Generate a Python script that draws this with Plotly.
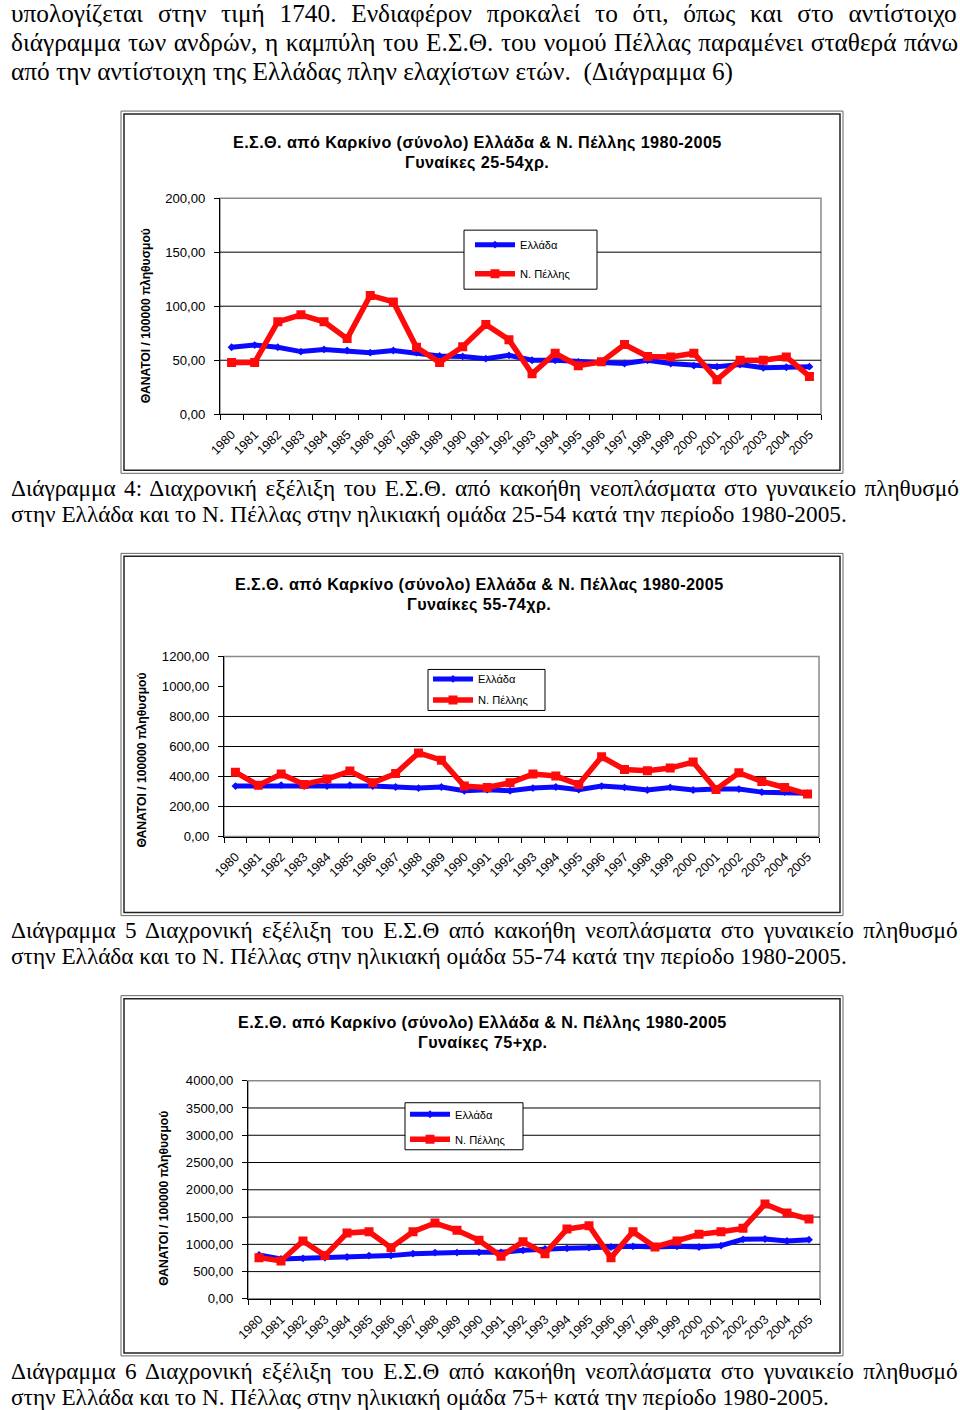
import plotly.graph_objects as go

YEARS = [str(y) for y in range(1980, 2006)]

# Chart 1: women 25-54
GR_25_54 = [62, 64, 62, 58, 60, 59, 57, 59, 57, 54, 53.5, 51.5, 54.5, 50, 50, 48.5, 48, 47, 50, 47, 45, 44, 46, 43, 43.5, 44]
PE_25_54 = [48, 48, 85.5, 92, 85.5, 70, 110, 104, 62, 48, 62.5, 83, 69, 37.5, 56.5, 45, 48.5, 64.5, 53.5, 53, 56.5, 32, 50, 50, 53, 35]

# Chart 2: women 55-74
GR_55_74 = [336, 336, 343, 336, 336, 343, 336, 330, 323, 330, 305, 312, 305, 323, 330, 312, 336, 327, 310, 327, 310, 316, 316, 296, 296, 288]
PE_55_74 = [429, 341, 416, 347, 383, 436, 358, 420, 557, 509, 336, 327, 358, 416, 403, 347, 531, 447, 438, 456, 496, 314, 425, 367, 327, 283]

# Chart 3: women 75+
GR_75 = [805, 732, 744, 756, 768, 793, 793, 829, 848, 848, 854, 854, 890, 915, 927, 939, 951, 963, 951, 963, 951, 976, 1091, 1098, 1061, 1085]
PE_75 = [756, 695, 1061, 793, 1207, 1232, 939, 1232, 1390, 1256, 1073, 780, 1049, 829, 1280, 1341, 756, 1232, 951, 1061, 1183, 1232, 1293, 1740, 1573, 1463]

SERIES_NAMES = ["Ελλάδα", "Ν. Πέλλης"]

TITLES = [
    ("Ε.Σ.Θ. από Καρκίνο (σύνολο) Ελλάδα &amp; Ν. Πέλλης 1980-2005", "Γυναίκες 25-54χρ."),
    ("Ε.Σ.Θ. από Καρκίνο (σύνολο) Ελλάδα &amp; Ν. Πέλλας 1980-2005", "Γυναίκες 55-74χρ."),
    ("Ε.Σ.Θ. από Καρκίνο (σύνολο) Ελλάδα &amp; Ν. Πέλλης 1980-2005", "Γυναίκες 75+χρ."),
]
Y_TITLE = "ΘΑΝΑΤΟΙ / 100000 πληθυσμού"
Y_MAX = [200, 1200, 4000]
Y_DTICK = [50, 200, 500]
GRIDS = [[50, 100, 150], [200, 400, 600, 800], [500, 1000, 1500, 2000, 2500, 3000, 3500]]

PARAGRAPH = [
    "υπολογίζεται στην τιμή 1740. Ενδιαφέρον προκαλεί το ότι, όπως και στο αντίστοιχο",
    "διάγραμμα των ανδρών, η καμπύλη του Ε.Σ.Θ. του νομού Πέλλας παραμένει σταθερά πάνω",
    "από την αντίστοιχη της Ελλάδας πλην ελαχίστων ετών.\u00a0 (Διάγραμμα 6)",
]
CAPTIONS = [
    ("Διάγραμμα 4: Διαχρονική εξέλιξη του Ε.Σ.Θ. από κακοήθη νεοπλάσματα στο γυναικείο πληθυσμό",
     "στην Ελλάδα και το Ν. Πέλλας στην ηλικιακή ομάδα 25-54 κατά την περίοδο 1980-2005."),
    ("Διάγραμμα 5 Διαχρονική εξέλιξη του Ε.Σ.Θ από κακοήθη νεοπλάσματα στο γυναικείο πληθυσμό",
     "στην Ελλάδα και το Ν. Πέλλας στην ηλικιακή ομάδα 55-74 κατά την περίοδο 1980-2005."),
    ("Διάγραμμα 6 Διαχρονική εξέλιξη του Ε.Σ.Θ από κακοήθη νεοπλάσματα στο γυναικείο πληθυσμό",
     "στην Ελλάδα και το Ν. Πέλλας στην ηλικιακή ομάδα 75+ κατά την περίοδο 1980-2005."),
]
PARA_WS = [8.4, 1.2, 0]
CAP_WS = [(2.65, 0), (3.65, 0), (3.65, 0)]

W, H = 960, 1410
# mapping from positions measured on the reference picture to page pixels
SX, OX = 0.9875, 12.0
SY, OY = 0.9887, 7.0
FS = 1 / 0.988
def fx(p): return ((p - OX) / SX) / W
def fy(p): return 1 - ((p - OY) / SY) / H

BLUE = "#0a0aff"
RED = "#ff0a0a"
SANS = "Liberation Sans, Arial, sans-serif"
SERIF = "Liberation Serif, Times New Roman, serif"

PLOTS = [dict(x0=220, x1=821, y0=198, y1=414),
         dict(x0=224, x1=819, y0=656, y1=836),
         dict(x0=248, x1=820, y0=1080, y1=1298)]
FRAMES = [(122, 112, 842, 472), (122, 554, 842, 914), (122, 996, 842, 1354)]
TITLE_POS = [(477, 142, 162), (479, 584, 604), (483, 1022, 1042)]
YTITLE_POS = [(146, 316), (142, 760), (164, 1197)]
LEG_BOX = [(464, 230, 597, 289), (428, 669, 545, 710), (405, 1102, 523, 1149)]
LEG_POS = [(470, 230), (428, 664), (405, 1099)]
LEG_GAP = [10, 2, 6]

def spaced(text, ws=0, ls=0):
    style = []
    if ws:
        style.append(f"word-spacing:{ws}px")
    if ls:
        style.append(f"letter-spacing:{ls}px")
    if not style:
        return text
    return f'<span style="{";".join(style)}">{text}</span>'

fig = go.Figure()
data_sets = [(GR_25_54, PE_25_54), (GR_55_74, PE_55_74), (GR_75, PE_75)]
for i, (gr, pe) in enumerate(data_sets):
    sfx = "" if i == 0 else str(i + 1)
    leg = "legend" if i == 0 else f"legend{i + 1}"
    fig.add_trace(go.Scatter(x=YEARS, y=gr, name=SERIES_NAMES[0], mode="lines+markers",
                             line=dict(color=BLUE, width=5), marker=dict(symbol="diamond", size=6, color=BLUE),
                             xaxis="x" + sfx, yaxis="y" + sfx, legend=leg, legendgroup=f"a{i}"))
    fig.add_trace(go.Scatter(x=YEARS, y=pe, name=SERIES_NAMES[1], mode="lines+markers",
                             line=dict(color=RED, width=5.5), marker=dict(symbol="square", size=9, color=RED),
                             xaxis="x" + sfx, yaxis="y" + sfx, legend=leg, legendgroup=f"b{i}"))

layout = dict(width=W, height=H, autosize=False, margin=dict(l=0, r=0, t=0, b=0),
              paper_bgcolor="white", plot_bgcolor="white", separators=",.", showlegend=True,
              font=dict(family=SANS, color="black"))
shapes = []
annotations = []

for i, p in enumerate(PLOTS):
    sfx = "" if i == 0 else str(i + 1)
    layout["xaxis" + sfx] = dict(domain=[fx(p["x0"]), fx(p["x1"])], anchor="y" + sfx, type="category",
                                 range=[-0.5, 25.5], showline=True, linecolor="black", linewidth=1,
                                 ticks="outside", tickson="boundaries", ticklen=5, tickcolor="black",
                                 tickangle=-45, showgrid=False, zeroline=False, ticklabelstandoff=7,
                                 tickfont=dict(family=SANS, size=12.5 * FS, color="black"))
    layout["yaxis" + sfx] = dict(domain=[fy(p["y1"]), fy(p["y0"])], anchor="x" + sfx,
                                 range=[0, Y_MAX[i]], dtick=Y_DTICK[i], tick0=0, tickformat=".2f",
                                 showline=True, linecolor="black", linewidth=1, ticks="outside",
                                 ticklen=5, tickcolor="black", showgrid=False, zeroline=False,
                                 ticklabelstandoff=6,
                                 tickfont=dict(family=SANS, size=13 * FS, color="black"))
    shapes.append(dict(type="rect", xref=f"x{sfx} domain", yref=f"y{sfx} domain", x0=0, x1=1, y0=0, y1=1,
                       line=dict(color="#8a8a8a", width=1.5), layer="below"))
    for g in GRIDS[i]:
        shapes.append(dict(type="line", xref=f"x{sfx} domain", yref="y" + sfx, x0=0, x1=1, y0=g, y1=g,
                           line=dict(color="black", width=1), layer="below"))
    fx0, fy0, fx1, fy1 = FRAMES[i]
    shapes.append(dict(type="rect", xref="paper", yref="paper", x0=fx(fx0 - 1), x1=fx(fx1 + 1),
                       y0=fy(fy1 + 1), y1=fy(fy0 - 1), line=dict(color="#666666", width=1), layer="below"))
    shapes.append(dict(type="rect", xref="paper", yref="paper", x0=fx(fx0 + 2), x1=fx(fx1 - 2),
                       y0=fy(fy1 - 2), y1=fy(fy0 + 2), line=dict(color="#222222", width=1.5), layer="below"))
    lx0, ly0, lx1, ly1 = LEG_BOX[i]
    shapes.append(dict(type="rect", xref="paper", yref="paper", x0=fx(lx0), x1=fx(lx1), y0=fy(ly1), y1=fy(ly0),
                       line=dict(color="black", width=1), fillcolor="white", layer="above"))
    lname = "legend" if i == 0 else f"legend{i + 1}"
    layout[lname] = dict(x=fx(LEG_POS[i][0]), y=fy(LEG_POS[i][1]), xanchor="left", yanchor="top",
                         bgcolor="rgba(0,0,0,0)", borderwidth=0, itemwidth=40, traceorder="grouped",
                         tracegroupgap=LEG_GAP[i], font=dict(family=SANS, size=11 * FS, color="black"))
    tx, ty1, ty2 = TITLE_POS[i]
    for txt, ty in ((TITLES[i][0], ty1), (TITLES[i][1], ty2)):
        annotations.append(dict(text="<b>" + spaced(txt, ls=0.4) + "</b>", x=fx(tx), y=fy(ty),
                                xref="paper", yref="paper", showarrow=False, xanchor="center", yanchor="middle",
                                font=dict(family=SANS, size=16 * FS, color="black")))
    yx, yy = YTITLE_POS[i]
    annotations.append(dict(text="<b>" + Y_TITLE + "</b>", x=fx(yx), y=fy(yy), xref="paper", yref="paper",
                            showarrow=False, textangle=-90, xanchor="center", yanchor="middle",
                            font=dict(family=SANS, size=12 * FS, color="black")))

TEXT_X = -3 / W  # text starts right at the page's left edge
for j, line in enumerate(PARAGRAPH):
    annotations.append(dict(text=spaced(line, ws=PARA_WS[j]), x=TEXT_X, y=fy(13 + 29 * j),
                            xref="paper", yref="paper", showarrow=False, xanchor="left", yanchor="middle",
                            font=dict(family=SERIF, size=25 * FS, color="black")))
CAP_Y = [488, 929, 1370]
for j, (a, b) in enumerate(CAPTIONS):
    for k, line in enumerate((a, b)):
        annotations.append(dict(text=spaced(line, ws=CAP_WS[j][k]), x=TEXT_X, y=fy(CAP_Y[j] + 26 * k),
                                xref="paper", yref="paper", showarrow=False, xanchor="left", yanchor="middle",
                                font=dict(family=SERIF, size=23 * FS, color="black")))

layout["shapes"] = shapes
layout["annotations"] = annotations
fig.update_layout(**layout)
fig.write_html("out.html", config={"displayModeBar": False},
               post_script="document.body.style.margin='0';document.body.style.overflow='hidden';")
